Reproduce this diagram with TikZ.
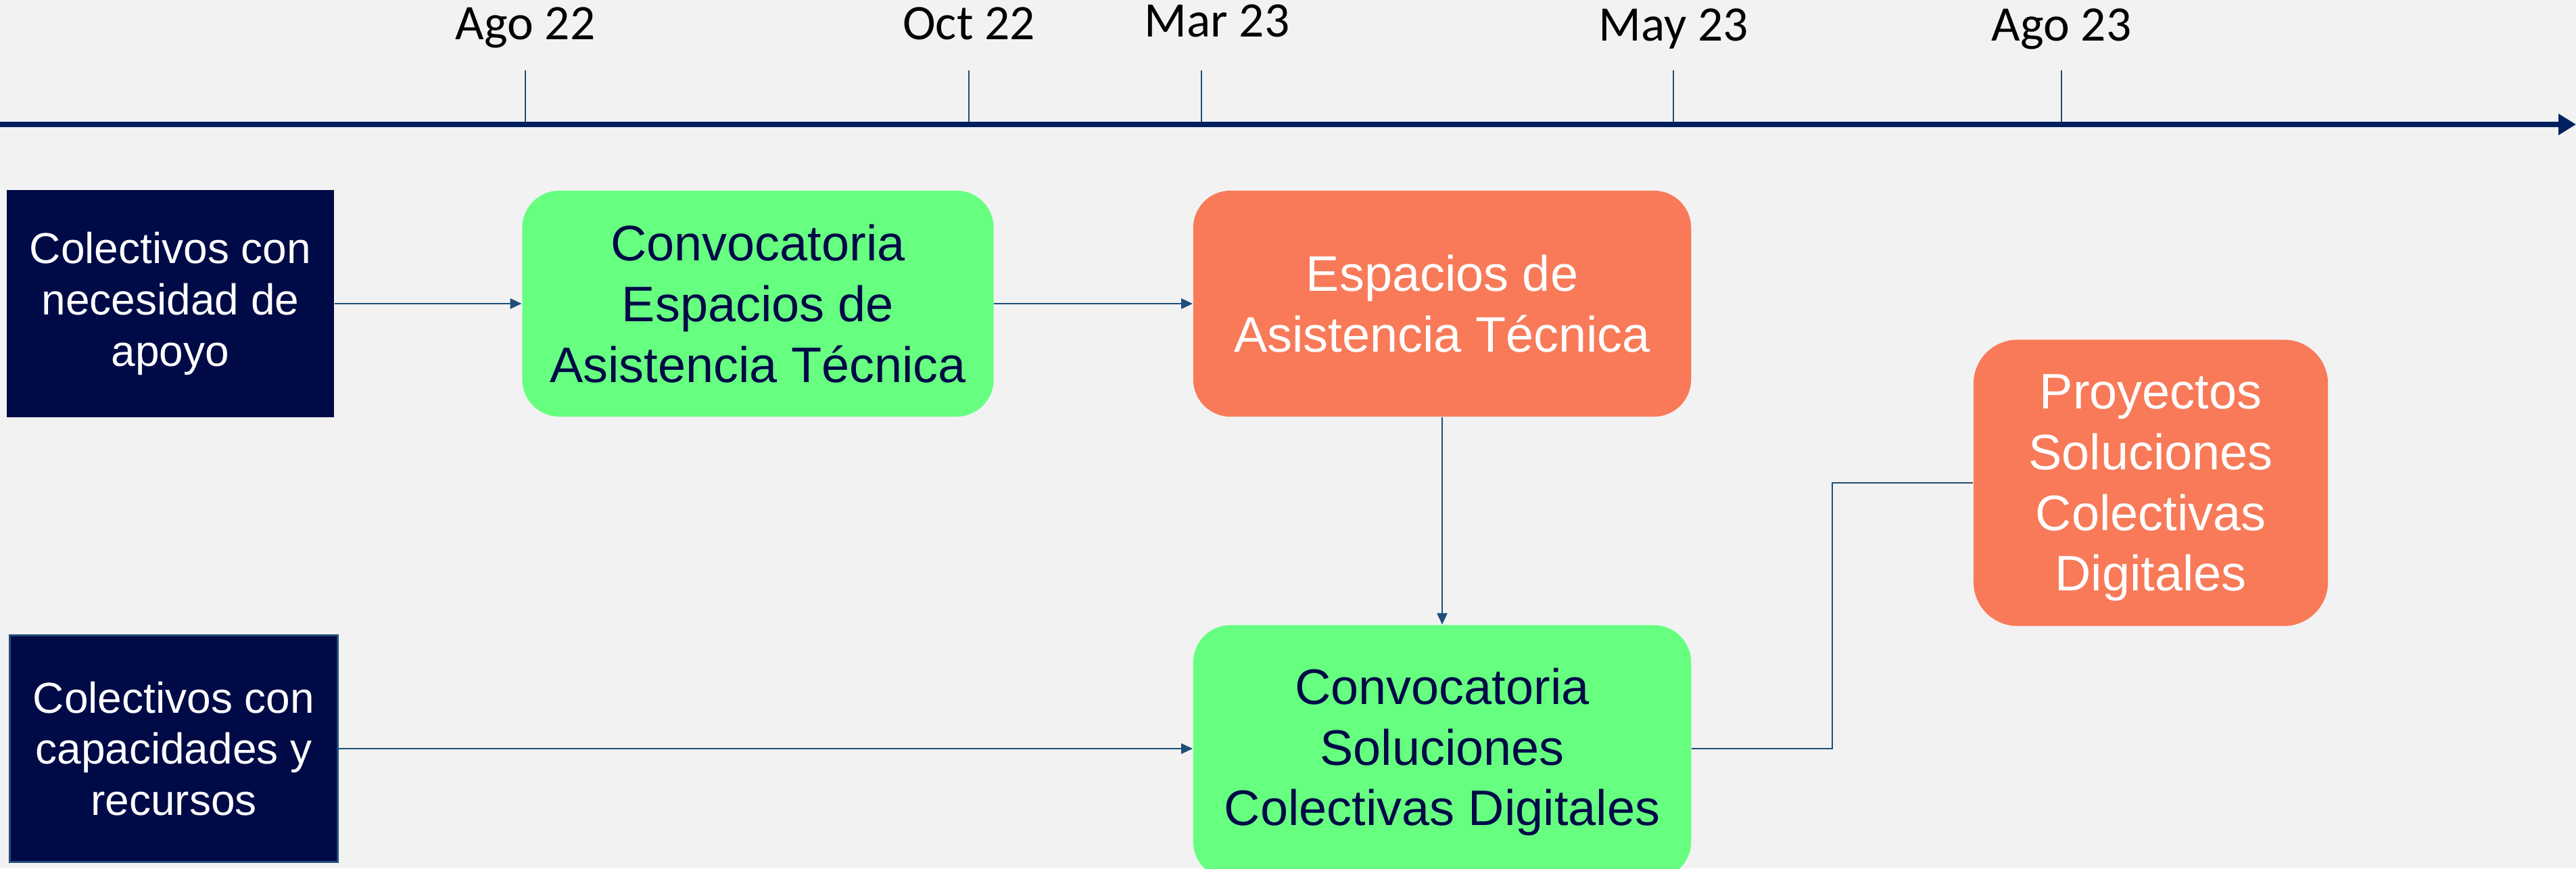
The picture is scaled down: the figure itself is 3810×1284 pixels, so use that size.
\documentclass[tikz,border=0pt]{standalone}
\usepackage{fontspec}
\setmainfont{Liberation Sans}
\newfontfamily\datefont{Carlito}
\usetikzlibrary{arrows.meta}
\definecolor{paper}{RGB}{242,242,242}
\definecolor{navybox}{RGB}{0,10,71}
\definecolor{greenbox}{RGB}{102,255,128}
\definecolor{orangebox}{RGB}{248,122,88}
\definecolor{axisblue}{RGB}{0,32,96}
\definecolor{linkblue}{RGB}{31,78,121}
\begin{document}
\begin{tikzpicture}
  [x=0.01cm,y=-0.01cm,every node/.style={align=center,inner sep=0pt}]
  \tikzstyle{group} = [fill=navybox,text=white,minimum width=4.84cm,minimum height=3.35cm,font=\fontsize{18.2}{21.5}\selectfont]
  \tikzstyle{call} = [fill=greenbox,text=navybox,rounded corners=0.55cm,minimum height=3.34cm,font=\fontsize{21}{25.5}\selectfont]
  \tikzstyle{result} = [fill=orangebox,text=white,rounded corners=0.55cm,minimum height=3.34cm,font=\fontsize{21}{25.5}\selectfont]
  \tikzstyle{link} = [draw=linkblue,line width=0.8pt]
  \tikzstyle{date} = [anchor=base,font=\datefont\fontsize{20.9}{24}\selectfont]
  \fill[paper] (0,0) rectangle (3810,1284);
  \useasboundingbox (0,0) rectangle (3810,1284);
  % timeline
  \coordinate (t0) at (0,184);
  \coordinate (t1) at (3810,184);
  \foreach \x/\y/\shift/\lab [count=\i] in {777/58/0/Ago 22,1433/58/0/Oct 22,1777/54/23/Mar 23,2475/60/0/May 23,3049/60/0/Ago 23}
  {
   \draw[draw=linkblue,line width=0.6pt] (\x,104) -- (\x,184);
   \node[date] (d\i) at (\x+\shift,\y) {\lab};
  }
  \draw[draw=axisblue,line width=2.3pt,-{Triangle[length=0.26cm,width=0.3cm]}] (t0) -- (t1);
  % boxes
  \node[group] (need) at (252,449) {Colectivos con\\necesidad de\\apoyo};
  \node[group,draw=linkblue,line width=0.8pt] (offer) at (257,1107) {Colectivos con\\capacidades y\\recursos};
  \node[call,minimum width=6.97cm] (callA) at (1121,449) {Convocatoria\\Espacios de\\Asistencia Técnica};
  \node[result,minimum width=7.36cm] (spaces) at (2133,449) {Espacios de\\Asistencia Técnica};
  \node[call,minimum width=7.36cm,minimum height=3.75cm] (callB) at (2133,1112) {Convocatoria\\Soluciones\\Colectivas Digitales};
  \node[result,rounded corners=0.65cm,minimum width=5.24cm,minimum height=4.23cm,text depth=0pt] (projects) at (3181,714) {Proyectos\\Soluciones\\Colectivas\\Digitales};
  \coordinate (knee) at (2710,714);
  % connectors
  \foreach \source /\dest in {need/callA,callA/spaces,spaces/callB}
   \draw[link,-{Triangle[length=0.17cm,width=0.15cm]}] (\source) -- (\dest);
  \draw[link,-{Triangle[length=0.17cm,width=0.15cm]}] (offer.east) -- (offer.east -| callB.west);
  \draw[link] (callB.east |- offer.east) -| (knee) -- (projects.west);
\end{tikzpicture}
\end{document}
